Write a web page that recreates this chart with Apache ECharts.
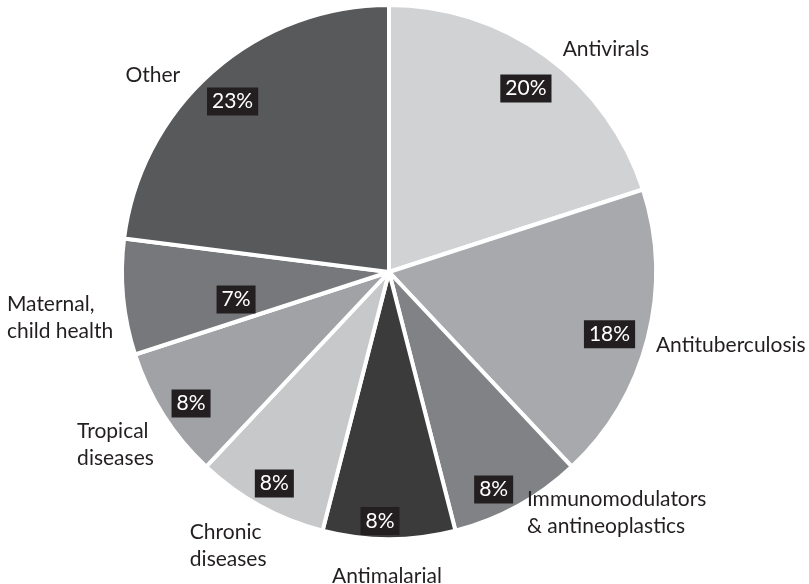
<!DOCTYPE html>
<html>
<head>
<meta charset="utf-8">
<script src="https://cdn.jsdelivr.net/npm/echarts@6/dist/echarts.min.js"></script>
<style>
  html, body { margin: 0; padding: 0; background: #fff; }
  #main { width: 809px; height: 584px; }
</style>
</head>
<body>
<div id="main"></div>
<script>
// data, clockwise from 12 o'clock
var categories = ['Antivirals', 'Antituberculosis', 'Immunomodulators\n& antineoplastics', 'Antimalarial',
  'Chronic\ndiseases', 'Tropical\ndiseases', 'Maternal,\nchild health', 'Other']
var shares = [20, 18, 8, 8, 8, 8, 7, 23]
var colors = ['#d1d2d4', '#a7a9ac', '#808285', '#3b3b3c', '#c7c8ca', '#a0a2a5', '#77787b', '#58595b']

// little hand tweaks for label placement (style only)
var nameNudge = [[7, 0], [0, 5], [-7, 0], [-62, 21], [15, 33], [2, 25], [3, 20], [-22, 10]]
var pctNudge = [[-3, 9], [-10, 3], [-10, 9], [-9, 11], [0, 3], [3, 4], [84, 5], [1, 8]]

var chart = echarts.init(document.getElementById('main'))

var fontFam = 'Lato, "Open Sans", sans-serif'

var slices = categories.map(function (c, i) {
  return { name: c, value: shares[i], itemStyle: { color: colors[i] } }
})

var option = {
  animation: false,
  series: [
    {
      // the slices + outside names
      type: 'pie',
      center: [389, 272],
      radius: [0, 267],
      startAngle: 90,
      clockwise: true,
      silent: true,
      data: slices,
      itemStyle: { borderColor: '#fff', borderWidth: 4 },
      label: {
        show: true,
        position: 'outside',
        formatter: '{b}',
        fontFamily: fontFam,
        fontSize: 21,
        color: '#231f20',
        lineHeight: 27,
        overflow: 'none'
      },
      labelLine: { show: false, length: 8, length2: 0 },
      labelLayout: function (p) {
        var n = nameNudge[p.dataIndex]
        var out = { dx: n[0], dy: n[1] }
        // names on the left side are left aligned in the reference
        if (p.align === 'right') {
          out.align = 'left'
          out.dx = n[0] - p.labelRect.width
        }
        return out
      }
    },
    {
      // percent boxes inside each slice
      type: 'pie',
      center: [389, 272],
      radius: [203, 267],
      startAngle: 90,
      silent: true,
      data: slices.map(function (s) { return { name: s.name, value: s.value } }),
      itemStyle: { color: 'transparent' },
      label: {
        show: true,
        position: 'inside',
        formatter: '{c}%',
        fontFamily: fontFam,
        fontSize: 21,
        color: '#fff',
        backgroundColor: '#231f20',
        padding: [4, 5, 3, 5]
      },
      labelLine: { show: false },
      labelLayout: function (p) {
        var n = pctNudge[p.dataIndex]
        return { dx: n[0], dy: n[1] }
      }
    }
  ]
}

chart.setOption(option)
</script>
</body>
</html>
